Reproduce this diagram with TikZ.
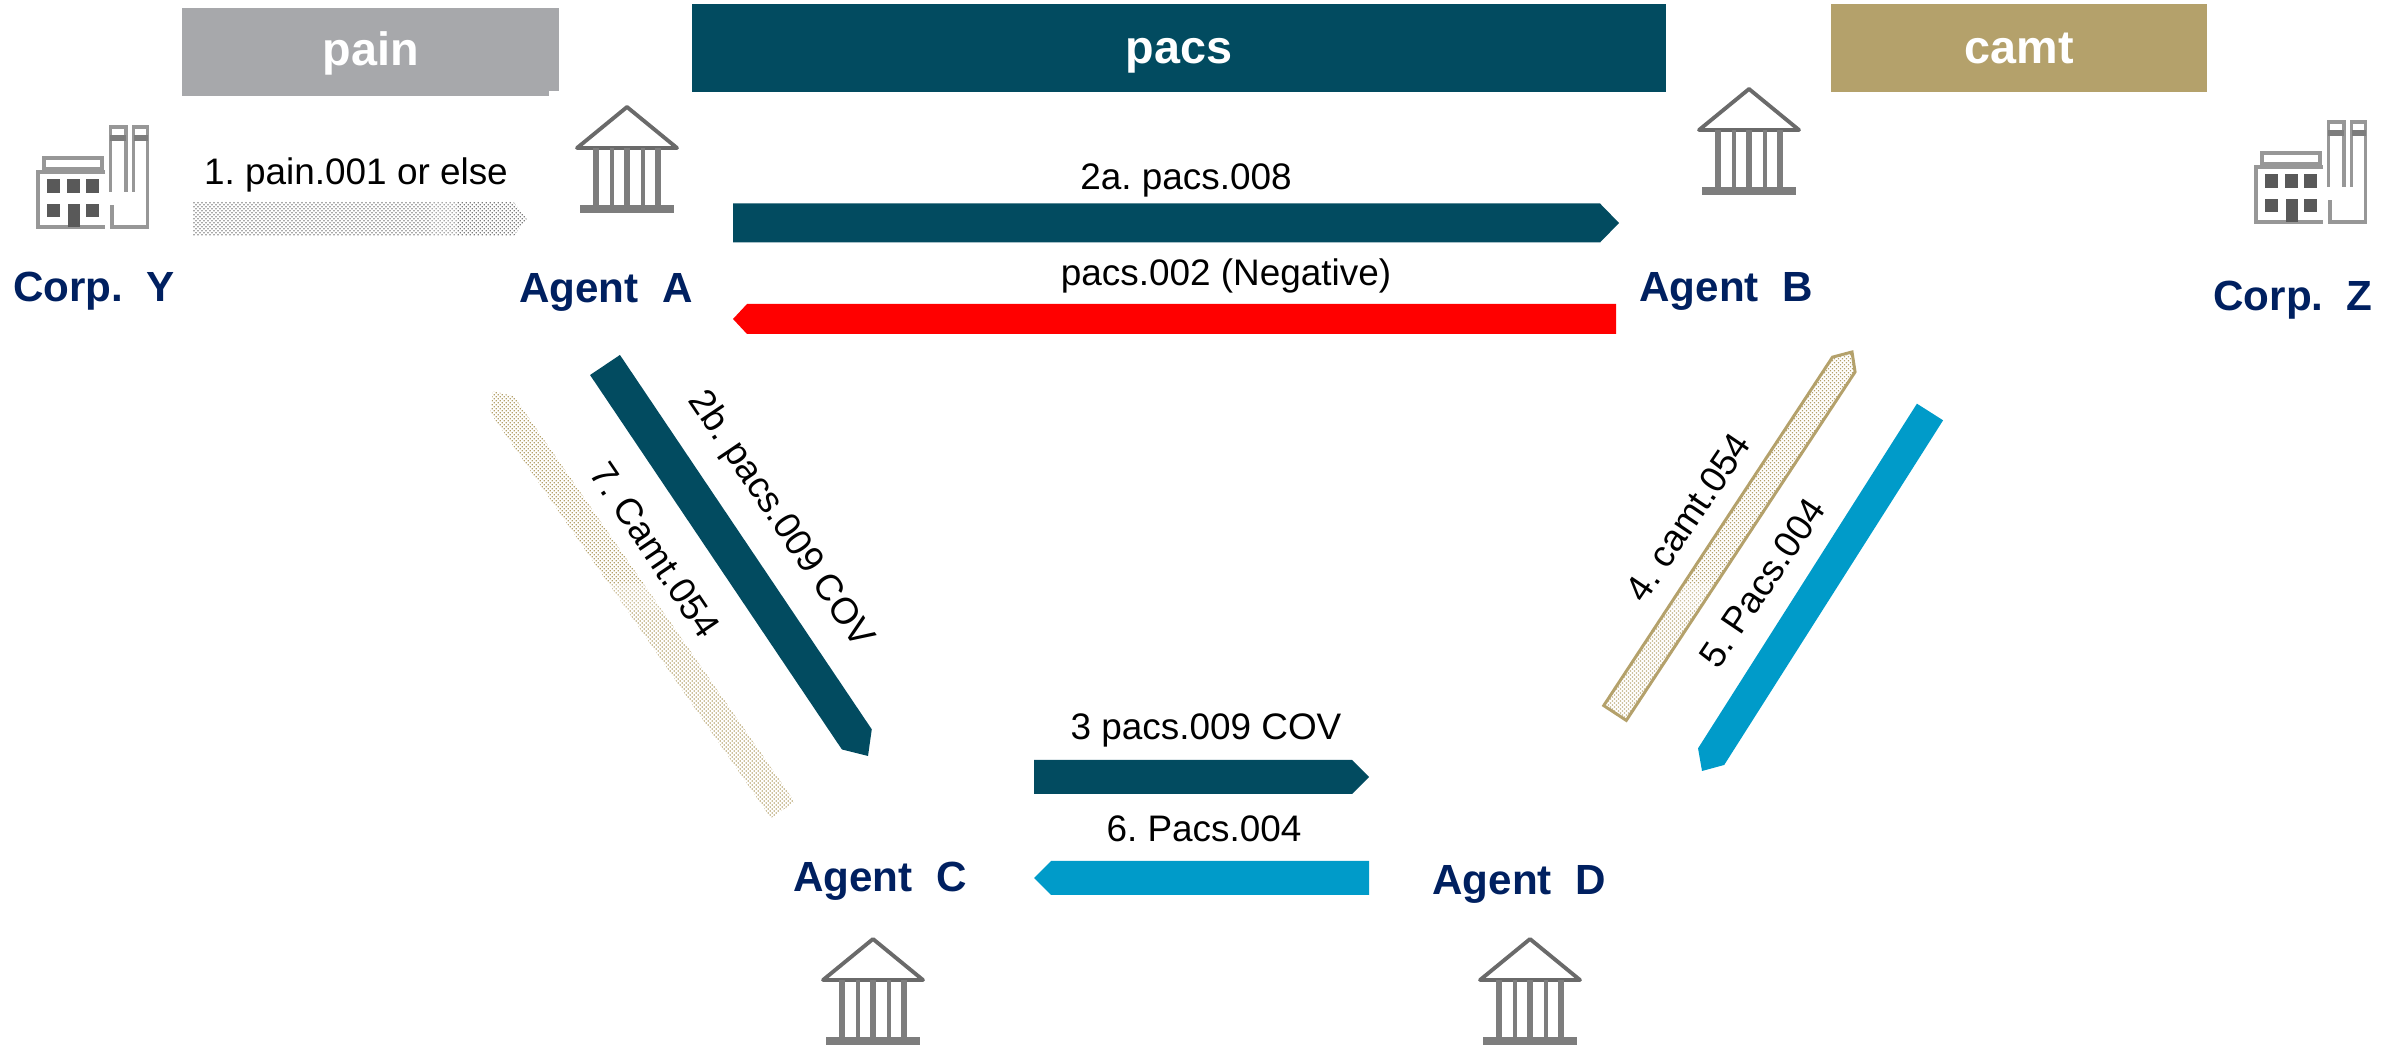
\documentclass[tikz,border=0pt]{standalone}
\usepackage{fontspec}
\usepackage{xcolor}
\usetikzlibrary{calc,patterns.meta}
\setmainfont{Liberation Sans}
\frenchspacing

\definecolor{tealdark}{RGB}{2,75,96}
\definecolor{bluepay}{RGB}{0,155,201}
\definecolor{tanbar}{RGB}{180,161,107}
\definecolor{greybar}{RGB}{167,168,171}
\definecolor{navyname}{RGB}{0,32,96}
\definecolor{icongrey}{RGB}{125,125,125}

\tikzset{
	flowarrow/.style 2 args={to path={
		-- ($(\tikztostart)!#1!90:(\tikztotarget)$)
		-- ($(\tikztotarget)!#2!(\tikztostart)!#1!90:(\tikztotarget)$)
		-- (\tikztotarget)
		-- ($(\tikztotarget)!#2!(\tikztostart)!#1!-90:(\tikztotarget)$)
		-- ($(\tikztostart)!#1!-90:(\tikztotarget)$)
		-- cycle}},
	dottedtan/.style={pattern={Dots[distance=.805pt,radius=.25pt,angle=45]}, pattern color=tanbar},
	dottedgrey/.style={pattern={Dots[distance=.805pt,radius=.25pt,angle=45]}, pattern color=icongrey},
	msg/.style={inner sep=0pt, font=\fontsize{10.5}{12}\selectfont},
	partyname/.style={inner sep=0pt, anchor=base, text=navyname, font=\fontsize{12}{14}\selectfont\bfseries},
	barbox/.style={inner sep=0pt, text=white, text height=.42cm, text depth=.10cm, font=\fontsize{13.3}{16}\selectfont\bfseries},
	bank/.pic={
		\draw[icongrey!85!black, line width=1.1pt, line join=round] (-.5,.61) -- (0,1.02) -- (.5,.61) -- cycle;
		\foreach \x in {-.31,0,.31} \draw[icongrey, line width=1.5pt] (\x,.61) -- (\x,0);
		\foreach \x in {-.15,.16} \draw[icongrey, line width=1.1pt] (\x,.61) -- (\x,0);
		\draw[icongrey, line width=2pt] (-.47,0) -- (.47,0);
	},
	factory/.pic={
		\draw[icongrey!80, line width=1pt] (.74,.217) -- (.74,0) -- (1.097,0) -- (1.097,1) -- (.957,1) -- (.957,.35);
		\draw[icongrey!80, line width=1pt] (.88,.35) -- (.88,1) -- (.723,1) -- (.723,.35);
		\draw[icongrey!80, line width=1pt] (.67,.55) -- (0,.55) -- (0,0) -- (.67,0);
		\draw[icongrey!80, line width=1pt] (.06,.58) rectangle (.64,.69);
		\fill[icongrey] (.723,.857) rectangle (.88,.917);
		\fill[icongrey] (.957,.857) rectangle (1.097,.917);
		\foreach \x in {.09,.29,.48} \fill[black!65] (\x,.34) rectangle +(.133,.137);
		\foreach \x in {.09,.48} \fill[black!65] (\x,.10) rectangle +(.133,.133);
		\fill[black!65] (.30,0) rectangle (.423,.233);
	}
}

\begin{document}
\begin{tikzpicture}
	\useasboundingbox (0,0) rectangle (24.02,10.45);

	% top bars
	\fill[greybar] (1.82,9.54) rectangle (5.49,9.49);
	\node[barbox, fill=greybar, minimum width=3.77cm, minimum height=.83cm] (pain) at (3.705,9.955) {pain};
	\node[barbox, fill=tealdark, minimum width=9.74cm, minimum height=.88cm] (pacs) at (11.79,9.97) {pacs};
	\node[barbox, fill=tanbar, minimum width=3.76cm, minimum height=.88cm] (camt) at (20.19,9.97) {camt};

	% ends of the arrows
	\coordinate (payS) at (1.93,8.26);
	\coordinate (payT) at (5.27,8.26);
	\coordinate (abS) at (7.33,8.22);
	\coordinate (abT) at (16.19,8.22);
	\coordinate (baS) at (16.16,7.26);
	\coordinate (baT) at (7.33,7.26);
	\coordinate (acS) at (6.05,6.80);
	\coordinate (acT) at (8.68,2.89);
	\coordinate (caS) at (7.83,2.35);
	\coordinate (caT) at (4.93,6.54);
	\coordinate (cdS) at (10.34,2.68);
	\coordinate (cdT) at (13.69,2.68);
	\coordinate (dcS) at (13.69,1.67);
	\coordinate (dcT) at (10.34,1.67);
	\coordinate (dbS) at (16.15,3.32);
	\coordinate (dbT) at (18.52,6.93);
	\coordinate (bdS) at (19.30,6.33);
	\coordinate (bdT) at (17.02,2.74);

	\path[dottedgrey] (payS) to[flowarrow={.17cm}{.13cm}] (payT); % 1
	\fill[tealdark] (abS) to[flowarrow={.195cm}{.19cm}] (abT); % 2a
	\fill[red] (baS) to[flowarrow={.15cm}{.14cm}] (baT); % negative
	\fill[tealdark] (acS) to[flowarrow={.18cm}{.20cm}] (acT); % 2b
	\path[dottedtan] (caS) to[flowarrow={.145cm}{.165cm}] (caT); % 7
	\fill[tealdark] (cdS) to[flowarrow={.17cm}{.17cm}] (cdT); % 3
	\fill[bluepay] (dcS) to[flowarrow={.17cm}{.17cm}] (dcT); % 6
	\draw[draw=tanbar, line width=.85pt, dottedtan] (dbS) to[flowarrow={.135cm}{.15cm}] (dbT); % 4
	\fill[bluepay] (bdS) to[flowarrow={.155cm}{.17cm}] (bdT); % 5

	% texts of the arrows
	\node[msg, anchor=base] (msgone) at (3.56,8.60) {1. pain.001 or else};
	\node[msg, anchor=base] (msgtwoa) at (11.86,8.55) {2a. pacs.008};
	\node[msg, anchor=base] (msgneg) at (12.26,7.59) {pacs.002 (Negative)};
	\node[msg, rotate=-56] (msgtwob) at (7.80,5.25) {2b. pacs.009 COV};
	\node[msg, rotate=-56] (msgseven) at (6.55,4.95) {7. Camt.054};
	\node[msg, anchor=base] (msgthree) at (12.06,3.05) {3 pacs.009 COV};
	\node[msg, anchor=base] (msgsix) at (12.04,2.03) {6. Pacs.004};
	\node[msg, rotate=56] (msgfour) at (16.88,5.28) {4. camt.054};
	\node[msg, rotate=56] (msgfive) at (17.62,4.62) {5. Pacs.004};

	% parties
	\node[partyname] (corpY) at (.94,7.43) {Corp.~~Y};
	\node[partyname] (agentA) at (6.06,7.42) {Agent~~A};
	\node[partyname] (agentB) at (17.26,7.43) {Agent~~B};
	\node[partyname] (corpZ) at (22.93,7.34) {Corp.~~Z};
	\node[partyname] (agentC) at (8.80,1.53) {Agent~~C};
	\node[partyname] (agentD) at (15.19,1.50) {Agent~~D};

	% icons
	\pic (factoryY) at (.38,8.18) {factory};
	\pic (factoryZ) at (22.56,8.23) {factory};
	\pic (bankA) at (6.27,8.36) {bank};
	\pic (bankB) at (17.49,8.54) {bank};
	\pic (bankC) at (8.73,.04) {bank};
	\pic (bankD) at (15.30,.04) {bank};
\end{tikzpicture}
\end{document}
